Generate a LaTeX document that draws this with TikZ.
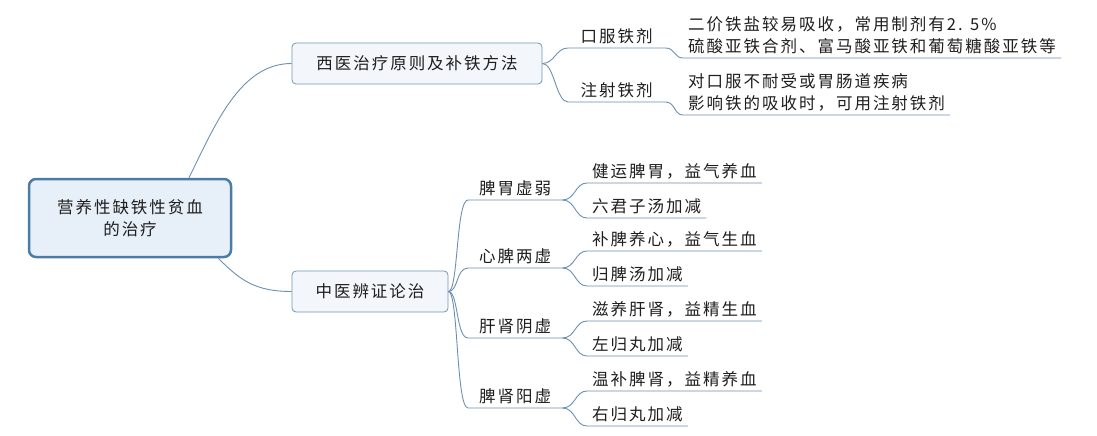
\documentclass[tikz,border=0pt]{standalone}
\usepackage{fontspec}
\usepackage{tikz}
\usetikzlibrary{calc,positioning}
\newfontfamily\cjk[LetterSpace=12]{Noto Sans CJK SC}
\definecolor{rootline}{HTML}{4A7CA6}
\definecolor{rootfill}{HTML}{E7EFF8}
\definecolor{boxline}{HTML}{7394B2}
\definecolor{boxfill}{HTML}{F3F7FB}
\definecolor{linkcol}{HTML}{6C90B2}
\definecolor{txt}{HTML}{1E1E1E}
% one syndrome: name, y of its line, title, first leaf, second leaf
\newcommand*{\syndrome}[5]{
  \node[topic,minimum width=94pt] (#1) at (468,#2) {#3};
  \node[leaf] (#1a) at (587,#2-17) {#4};
  \node[leaf] (#1b) at (587,#2+18) {#5};
  \draw[link] (tcm.east) .. controls +(10,0) and +(-12,0) .. (#1.south west) -- (#1.south east);
  \draw[link] (#1.south east) .. controls +(13,0) and +(-12,0) .. (#1a.south west) -- (#1a.south east);
  \draw[link] (#1.south east) .. controls +(13,0) and +(-12,0) .. (#1b.south west) -- (#1b.south east);
}

\begin{document}
\begin{tikzpicture}[x=1pt,y=-1pt]
\tikzstyle{txtfont}=[font=\cjk\fontsize{16.5}{22}\selectfont,text=txt]
\tikzstyle{root}=[txtfont,draw=rootline,line width=2.5pt,fill=rootfill,rounded corners=7pt,
  minimum width=202pt,minimum height=78pt,align=center]
\tikzstyle{mainbox}=[txtfont,draw=boxline,line width=0.8pt,fill=boxfill,rounded corners=4pt,
  minimum height=41pt]
\tikzstyle{topic}=[txtfont,anchor=south west,inner xsep=5pt,inner ysep=4pt]
\tikzstyle{leaf}=[txtfont,anchor=south west,inner xsep=5pt,inner ysep=4pt,align=left]
\tikzstyle{link}=[draw=linkcol,line width=0.9pt]
\useasboundingbox (0,0) rectangle (1097,436);

\node[root] (root) at (130,218) {营养性缺铁性贫血\\的治疗};
\node[mainbox,minimum width=250pt] (west) at (417,63.5) {西医治疗原则及补铁方法};
\node[mainbox,minimum width=156pt] (tcm) at (370,291.5) {中医辨证论治};

\draw[link] ($(root.north)+(59,0)$) .. controls (215,125) and (240,63.5) .. (west.west);
\draw[link] ($(root.south east)+(-14,0)$) .. controls (240,280) and (255,291.5) .. (tcm.west);

% western medicine
\node[topic,minimum width=97pt] (oral) at (568,48) {口服铁剂};
\node[topic,minimum width=97pt] (inject) at (568,102) {注射铁剂};
\node[leaf] (oraltxt) at (683,58) {二价铁盐较易吸收，常用制剂有2. 5\%\\硫酸亚铁合剂、富马酸亚铁和葡萄糖酸亚铁等};
\node[leaf] (injecttxt) at (683,115) {对口服不耐受或胃肠道疾病\\影响铁的吸收时，可用注射铁剂};

\draw[link] (west.east) .. controls +(12,0) and +(-12,0) .. (oral.south west) -- (oral.south east)
  .. controls +(10,0) and +(-9,0) .. (oraltxt.south west) -- (oraltxt.south east);
\draw[link] (west.east) .. controls +(12,0) and +(-12,0) .. (inject.south west) -- (inject.south east)
  .. controls +(10,0) and +(-9,0) .. (injecttxt.south west) -- (injecttxt.south east);

% chinese medicine
\syndrome{pw}{200}{脾胃虚弱}{健运脾胃，益气养血}{六君子汤加减}
\syndrome{xp}{268}{心脾两虚}{补脾养心，益气生血}{归脾汤加减}
\syndrome{gs}{338}{肝肾阴虚}{滋养肝肾，益精生血}{左归丸加减}
\syndrome{ps}{408}{脾肾阳虚}{温补脾肾，益精养血}{右归丸加减}

\end{tikzpicture}
\end{document}
